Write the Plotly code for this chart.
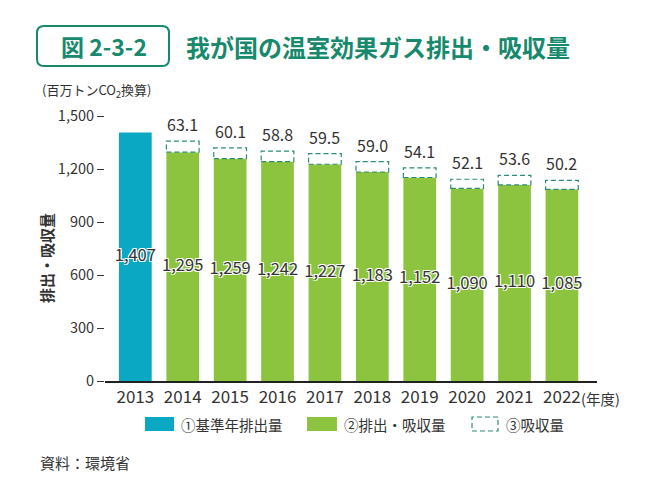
import plotly.graph_objects as go

years = ["2013", "2014", "2015", "2016", "2017", "2018", "2019", "2020", "2021", "2022"]
base_emission = [1407, None, None, None, None, None, None, None, None, None]
net_emission = [None, 1295, 1259, 1242, 1227, 1183, 1152, 1090, 1110, 1085]
absorption = [None, 63.1, 60.1, 58.8, 59.5, 59.0, 54.1, 52.1, 53.6, 50.2]
y_ticks = [0, 300, 600, 900, 1200, 1500]
legend_labels = ["①基準年排出量", "②排出・吸収量", "③吸収量"]

FONT = "Noto Sans CJK JP"
TEAL = "#0aa8c2"
GREEN = "#8cc43f"
DASH = "#2b8a78"
TITLE = "#17896c"
TXT = "#333333"
BAR_W = 0.69

fig = go.Figure()

fig.add_trace(go.Bar(x=years, y=base_emission, marker=dict(color=TEAL, line=dict(width=0)),
                     width=BAR_W, showlegend=False, hoverinfo="skip"))
fig.add_trace(go.Bar(x=years, y=net_emission, marker=dict(color=GREEN, line=dict(width=0)),
                     width=BAR_W, showlegend=False, hoverinfo="skip"))

# inside labels at mid-height
mid_vals, mid_text = [], []
for b, n in zip(base_emission, net_emission):
    v = b if b is not None else n
    mid_vals.append(v / 2)
    mid_text.append(f"{v:,}")
fig.add_trace(go.Scatter(x=years, y=mid_vals, mode="text", text=mid_text,
                         textfont=dict(family=FONT, size=16.5, color=TXT,
                                       shadow="1px 1px 0 #fff, -1px -1px 0 #fff, 1px -1px 0 #fff, -1px 1px 0 #fff"),
                         cliponaxis=False, showlegend=False, hoverinfo="skip"))

shapes = []
annotations = []
for i, (n, a) in enumerate(zip(net_emission, absorption)):
    if n is None or a is None:
        continue
    shapes.append(dict(type="rect", xref="x", yref="y", x0=i - BAR_W / 2, x1=i + BAR_W / 2,
                       y0=n, y1=n + a, fillcolor="white",
                       line=dict(color=DASH, width=1.2, dash="5px,3px"), layer="above"))
    annotations.append(dict(xref="x", yref="y", x=i, y=n + a, text=f"{a:.1f}",
                            showarrow=False, xanchor="center", yanchor="bottom", yshift=3,
                            font=dict(family=FONT, size=16, color=TXT)))

PL, PR, PT, PB = 105, 597, 116, 381


def px_x(p):
    return (p - PL) / (PR - PL)


def px_y(p):
    return (PB - p) / (PB - PT)


annotations.append(dict(xref="paper", yref="paper", x=px_x(104), y=px_y(46),
                        text="<b>図 2-3-2</b>", showarrow=False, xanchor="center", yanchor="middle",
                        font=dict(family=FONT, size=23, color=TITLE)))
annotations.append(dict(xref="paper", yref="paper", x=px_x(184), y=px_y(46),
                        text="<b>我が国の温室効果ガス排出・吸収量</b>", showarrow=False,
                        xanchor="left", yanchor="middle",
                        font=dict(family=FONT, size=24, color=TITLE)))
annotations.append(dict(xref="paper", yref="paper", x=px_x(40), y=px_y(90),
                        text="(百万トンCO<sub>2</sub>換算)", showarrow=False,
                        xanchor="left", yanchor="middle",
                        font=dict(family=FONT, size=13, color=TXT)))
annotations.append(dict(xref="paper", yref="paper", x=px_x(579), y=px_y(398),
                        text="(年度)", showarrow=False, xanchor="left", yanchor="middle",
                        font=dict(family=FONT, size=14.5, color=TXT)))
annotations.append(dict(xref="paper", yref="paper", x=px_x(38), y=px_y(462),
                        text="資料：環境省", showarrow=False, xanchor="left", yanchor="middle",
                        font=dict(family=FONT, size=15, color=TXT)))
annotations.append(dict(xref="paper", yref="paper", x=px_x(46), y=px_y(258),
                        text="<b>排出・吸収量</b>", showarrow=False, textangle=-90,
                        xanchor="center", yanchor="middle",
                        font=dict(family=FONT, size=15, color=TXT)))

shapes.append(dict(type="path", xref="paper", yref="paper",
                   path="M {a},{b} L {c},{b} Q {d},{b} {d},{e} L {d},{f} Q {d},{g} {c},{g} L {a},{g} Q {h},{g} {h},{f} L {h},{e} Q {h},{b} {a},{b} Z".format(
                       a=px_x(44), c=px_x(162), d=px_x(169), h=px_x(37),
                       b=px_y(26), e=px_y(33), f=px_y(59), g=px_y(66)),
                   line=dict(color=TITLE, width=2), fillcolor="rgba(0,0,0,0)"))

# legend
leg = [(145, 174, TEAL, None, 179), (307, 337, GREEN, None, 342), (472, 498, "white", DASH, 504)]
for (x0, x1, fc, lc, tx), lab in zip(leg, legend_labels):
    shapes.append(dict(type="rect", xref="paper", yref="paper", x0=px_x(x0), x1=px_x(x1),
                       y0=px_y(431), y1=px_y(417), fillcolor=fc,
                       line=dict(color=lc if lc else fc, width=1.2 if lc else 0, dash="5px,3px")))
    annotations.append(dict(xref="paper", yref="paper", x=px_x(tx), y=px_y(424), text=lab,
                            showarrow=False, xanchor="left", yanchor="middle",
                            font=dict(family=FONT, size=14.5, color=TXT)))

# page body has an 8px default margin: shrink figure and shift plot area accordingly
W, H, OFF = 641, 484, 8
fig.update_layout(
    width=W, height=H,
    margin=dict(l=PL - OFF, r=W - (PR - OFF), t=PT - OFF, b=H - (PB - OFF), autoexpand=False),
    barmode="overlay",
    plot_bgcolor="white", paper_bgcolor="white",
    font=dict(family=FONT, color=TXT),
    shapes=shapes, annotations=annotations,
    showlegend=False,
    xaxis=dict(type="category", range=[-0.64, 9.74], showline=True, linecolor="#222", linewidth=2,
               ticks="", tickfont=dict(family=FONT, size=17, color=TXT), showgrid=False,
               automargin=False, fixedrange=True),
    yaxis=dict(range=[0, 1500], tickvals=y_ticks, tickformat=",", ticks="outside", ticklen=7,
               tickcolor="#333", tickwidth=1, showgrid=False, zeroline=False, showline=False,
               automargin=False,
               tickfont=dict(family=FONT, size=14.5, color=TXT)),
)

fig.write_html("out.html")
